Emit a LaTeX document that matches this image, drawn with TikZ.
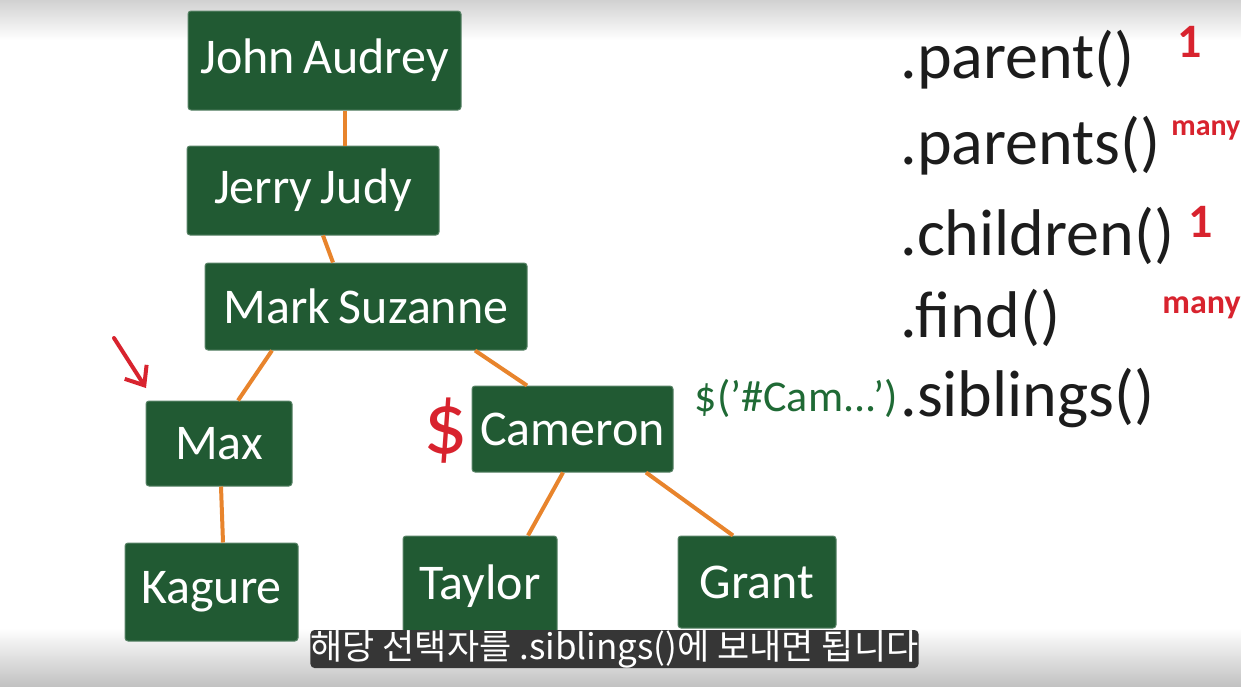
\documentclass[tikz,border=0pt]{standalone}
\usepackage{fontspec}
\setmainfont{Carlito}
\newfontfamily\kofont{Noto Sans CJK KR}
\usetikzlibrary{arrows.meta,positioning}
\definecolor{boardgreen}{HTML}{215A33}
\definecolor{linkorange}{HTML}{E8842C}
\definecolor{penred}{HTML}{D8232E}
\definecolor{pengreen}{HTML}{1F6A35}
\definecolor{penink}{HTML}{1C1C1C}
\definecolor{captiongray}{HTML}{363636}

\begin{document}
\begin{tikzpicture}[
  x=.5pt,y=-.5pt,
  person/.style={draw=boardgreen!75!white,fill=boardgreen,rounded corners=1.5pt,line width=.5pt,text=white,font=\fontsize{25}{30}\selectfont,inner sep=0pt},
  link/.style={draw=linkorange,line width=2pt},
  method/.style={anchor=west,text=penink,font=\fontsize{33}{38}\selectfont,inner sep=0pt},
  count/.style={anchor=west,text=penred,inner sep=0pt},
  caption/.style={fill=captiongray,rounded corners=2pt,text=white,font=\kofont\fontsize{17.5}{20}\selectfont,minimum width=301.5pt,minimum height=19pt,inner sep=0pt}
]
  \useasboundingbox (0,0) rectangle (1241,686);
  \fill[white] (0,0) rectangle (1241,686);
  \shade[top color=black!18,bottom color=white] (0,0) rectangle (1241,40);
  \shade[top color=white,bottom color=black!24] (0,628) rectangle (1241,686);

  % family tree
  \node[person,minimum width=136.5pt,minimum height=49.5pt] (john) at (324.5,60.5) {John\,Audrey};
  \node[person,minimum width=126pt,minimum height=44.5pt] (jerry) at (313,190.5) {Jerry\,Judy};
  \node[person,minimum width=161pt,minimum height=43.5pt] (mark) at (366,306.5) {Mark\,Suzanne};
  \node[person,minimum width=73pt,minimum height=42.5pt] (max) at (219,443.5) {Max};
  \node[person,minimum width=100.5pt,minimum height=43pt] (cameron) at (572.5,429) {Cameron};
  \node[person,minimum width=86.5pt,minimum height=49pt] (kagure) at (211.5,592) {Kagure};
  \node[person,minimum width=77pt,minimum height=50pt] (taylor) at (480,586) {Taylor};
  \node[person,minimum width=79pt,minimum height=46pt] (grant) at (757,582) {Grant};

  \draw[link] ([xshift=10.25pt]john.south) -- ([xshift=16pt]jerry.north);
  \draw[link] ([xshift=5pt]jerry.south) -- ([xshift=-16.5pt]mark.north);
  \draw[link] ([xshift=-47pt]mark.south) -- ([xshift=9.5pt]max.north);
  \draw[link] ([xshift=54.5pt]mark.south) -- ([xshift=-22.75pt]cameron.north);
  \draw[link] ([xshift=1pt]max.south) -- ([xshift=5.75pt]kagure.north);
  \draw[link] ([xshift=-4.75pt]cameron.south) -- ([xshift=24pt]taylor.north);
  \draw[link] ([xshift=36.75pt]cameron.south) -- ([xshift=-12pt]grant.north);

  % red marks
  \coordinate (marktail) at (114,338);
  \coordinate (markhead) at (146,388);
  \draw[penred,line width=2pt,line cap=round,-{Straight Barb[length=8pt,width=13pt]}] (marktail) -- (markhead);
  \node[text=penred,font=\fontsize{44}{50}\selectfont,inner sep=0pt] (dollar) at (446,431) {\$};

  % method list
  \node[method] (parent) at (900,60) {.parent()};
  \node[method] (parents) at (900,146) {.parents()};
  \node[method] (children) at (900,236) {.children()};
  \node[method] (find) at (900,318) {.find()};
  \node[method] (siblings) at (900,398) {.siblings()};
  \node[text=pengreen,font=\fontsize{22}{26}\selectfont,inner sep=0pt,left=1pt of siblings] (selector) {\$('\#Cam...')};

  \node[count,font=\fontsize{24}{28}\selectfont\bfseries] (parentcount) at (1177,42) {1};
  \node[count,font=\fontsize{15}{18}\selectfont\bfseries] (parentscount) at (1171,130) {many};
  \node[count,font=\fontsize{24}{28}\selectfont\bfseries] (childrencount) at (1188,222) {1};
  \node[count,font=\fontsize{17}{20}\selectfont\bfseries] (findcount) at (1162,308) {many};

  \node[caption] (subtitle) at (614.5,649) {해당 선택자를 .siblings()에 보내면 됩니다};
\end{tikzpicture}
\end{document}
